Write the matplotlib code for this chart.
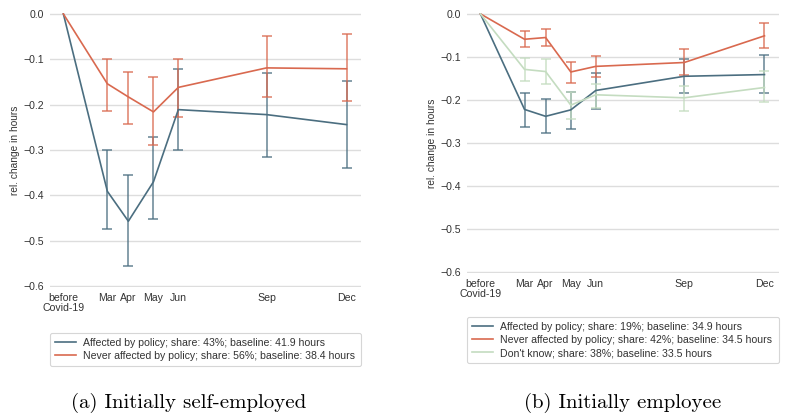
import numpy as np
import matplotlib
matplotlib.use("Agg")
import matplotlib.pyplot as plt

plt.rcParams['font.family'] = ['Liberation Sans', 'DejaVu Sans']
plt.rcParams['axes.unicode_minus'] = True

# x positions (months since before Covid-19) and tick labels
x_pos = [0, 1.61, 2.38, 3.30, 4.21, 7.44, 10.37]
x_labels = ["before\nCovid-19", "Mar", "Apr", "May", "Jun", "Sep", "Dec"]

# (a) initially self-employed
se_aff = [0, -0.391, -0.457, -0.370, -0.211, -0.222, -0.244]
se_aff_lo = [0, -0.474, -0.555, -0.452, -0.299, -0.316, -0.340]
se_aff_hi = [0, -0.300, -0.356, -0.272, -0.121, -0.130, -0.147]
se_nev = [0, -0.154, -0.183, -0.216, -0.162, -0.119, -0.121]
se_nev_lo = [0, -0.215, -0.242, -0.290, -0.228, -0.184, -0.193]
se_nev_hi = [0, -0.099, -0.127, -0.138, -0.100, -0.049, -0.044]

# (b) initially employee
em_aff = [0, -0.222, -0.238, -0.223, -0.178, -0.145, -0.141]
em_aff_lo = [0, -0.262, -0.277, -0.267, -0.222, -0.185, -0.183]
em_aff_hi = [0, -0.183, -0.198, -0.181, -0.138, -0.105, -0.095]
em_nev = [0, -0.059, -0.055, -0.135, -0.122, -0.113, -0.051]
em_nev_lo = [0, -0.078, -0.075, -0.161, -0.146, -0.143, -0.079]
em_nev_hi = [0, -0.040, -0.035, -0.111, -0.097, -0.082, -0.022]
em_dk = [0, -0.129, -0.134, -0.212, -0.188, -0.195, -0.171]
em_dk_lo = [0, -0.157, -0.163, -0.245, -0.219, -0.225, -0.205]
em_dk_hi = [0, -0.103, -0.106, -0.182, -0.162, -0.168, -0.132]

se_labels = ["Affected by policy; share: 43%; baseline: 41.9 hours",
             "Never affected by policy; share: 56%; baseline: 38.4 hours"]
em_labels = ["Affected by policy; share: 19%; baseline: 34.9 hours",
             "Never affected by policy; share: 42%; baseline: 34.5 hours",
             "Don't know; share: 38%; baseline: 33.5 hours"]

BLUE = "#4b6e80"
ORANGE = "#d9694f"
GREEN = "#c4dcc0"
FS = 7.6


def draw_panel(ax, series, labels, colors):
    x = np.array(x_pos)
    for (est, lo, hi), lab, col in zip(series, labels, colors):
        est, lo, hi = np.array(est), np.array(lo), np.array(hi)
        ax.plot(x, est, color=col, lw=1.2, label=lab, zorder=3)
        err = np.vstack([est[1:] - lo[1:], hi[1:] - est[1:]])
        ax.errorbar(x[1:], est[1:], yerr=err, fmt="none", ecolor=col,
                    elinewidth=1.1, capsize=3.6, capthick=1.1, alpha=0.85, zorder=2)
    ax.set_xlim(-0.49, 10.9)
    ax.set_ylim(-0.602, 0.002)
    ax.set_yticks([0.0, -0.1, -0.2, -0.3, -0.4, -0.5, -0.6])
    ax.set_yticklabels(["0.0", "\u22120.1", "\u22120.2", "\u22120.3",
                        "\u22120.4", "\u22120.5", "\u22120.6"])
    ax.set_xticks(x_pos)
    ax.set_xticklabels(x_labels, linespacing=1.0)
    ax.tick_params(axis="both", length=0, labelsize=FS, colors="#333333", pad=4)
    ax.grid(axis="y", color="#dddddd", lw=1.0)
    ax.set_axisbelow(True)
    for s in ax.spines.values():
        s.set_visible(False)
    ax.set_ylabel("rel. change in hours", fontsize=7.3, color="#333333", labelpad=3)


fig = plt.figure(figsize=(7.96, 4.15), dpi=100)
W, H = 796, 415

ax1 = fig.add_axes([50 / W, 1 - 287 / H, 311 / W, 274 / H])
ax2 = fig.add_axes([467 / W, 1 - 273 / H, 312 / W, 260 / H])

draw_panel(ax1, [(se_aff, se_aff_lo, se_aff_hi), (se_nev, se_nev_lo, se_nev_hi)],
           se_labels, [BLUE, ORANGE])
draw_panel(ax2, [(em_aff, em_aff_lo, em_aff_hi), (em_nev, em_nev_lo, em_nev_hi),
                 (em_dk, em_dk_lo, em_dk_hi)],
           em_labels, [BLUE, ORANGE, GREEN])

for ax, top in [(ax1, 333), (ax2, 317)]:
    y_anchor = (H - top) / H
    ax0 = ax.get_position()
    leg = ax.legend(loc="upper left", bbox_to_anchor=(ax0.x0, y_anchor, ax0.width, 0),
                    bbox_transform=fig.transFigure, mode="expand", fontsize=FS,
                    frameon=True, fancybox=True, edgecolor="#cccccc",
                    handlelength=2.0, handletextpad=0.7, borderpad=0.45,
                    labelspacing=0.3, borderaxespad=0)
    leg.get_frame().set_linewidth(0.8)
    for t in leg.get_texts():
        t.set_color("#333333")

fig.text(189 / W, 1 - 403 / H, "(a) Initially self-employed", family="cmr10",
         fontsize=15, ha="center", va="center")
fig.text(623 / W, 1 - 403 / H, "(b) Initially employee", family="cmr10",
         fontsize=15, ha="center", va="center")

fig.savefig("out.png", dpi=100)
